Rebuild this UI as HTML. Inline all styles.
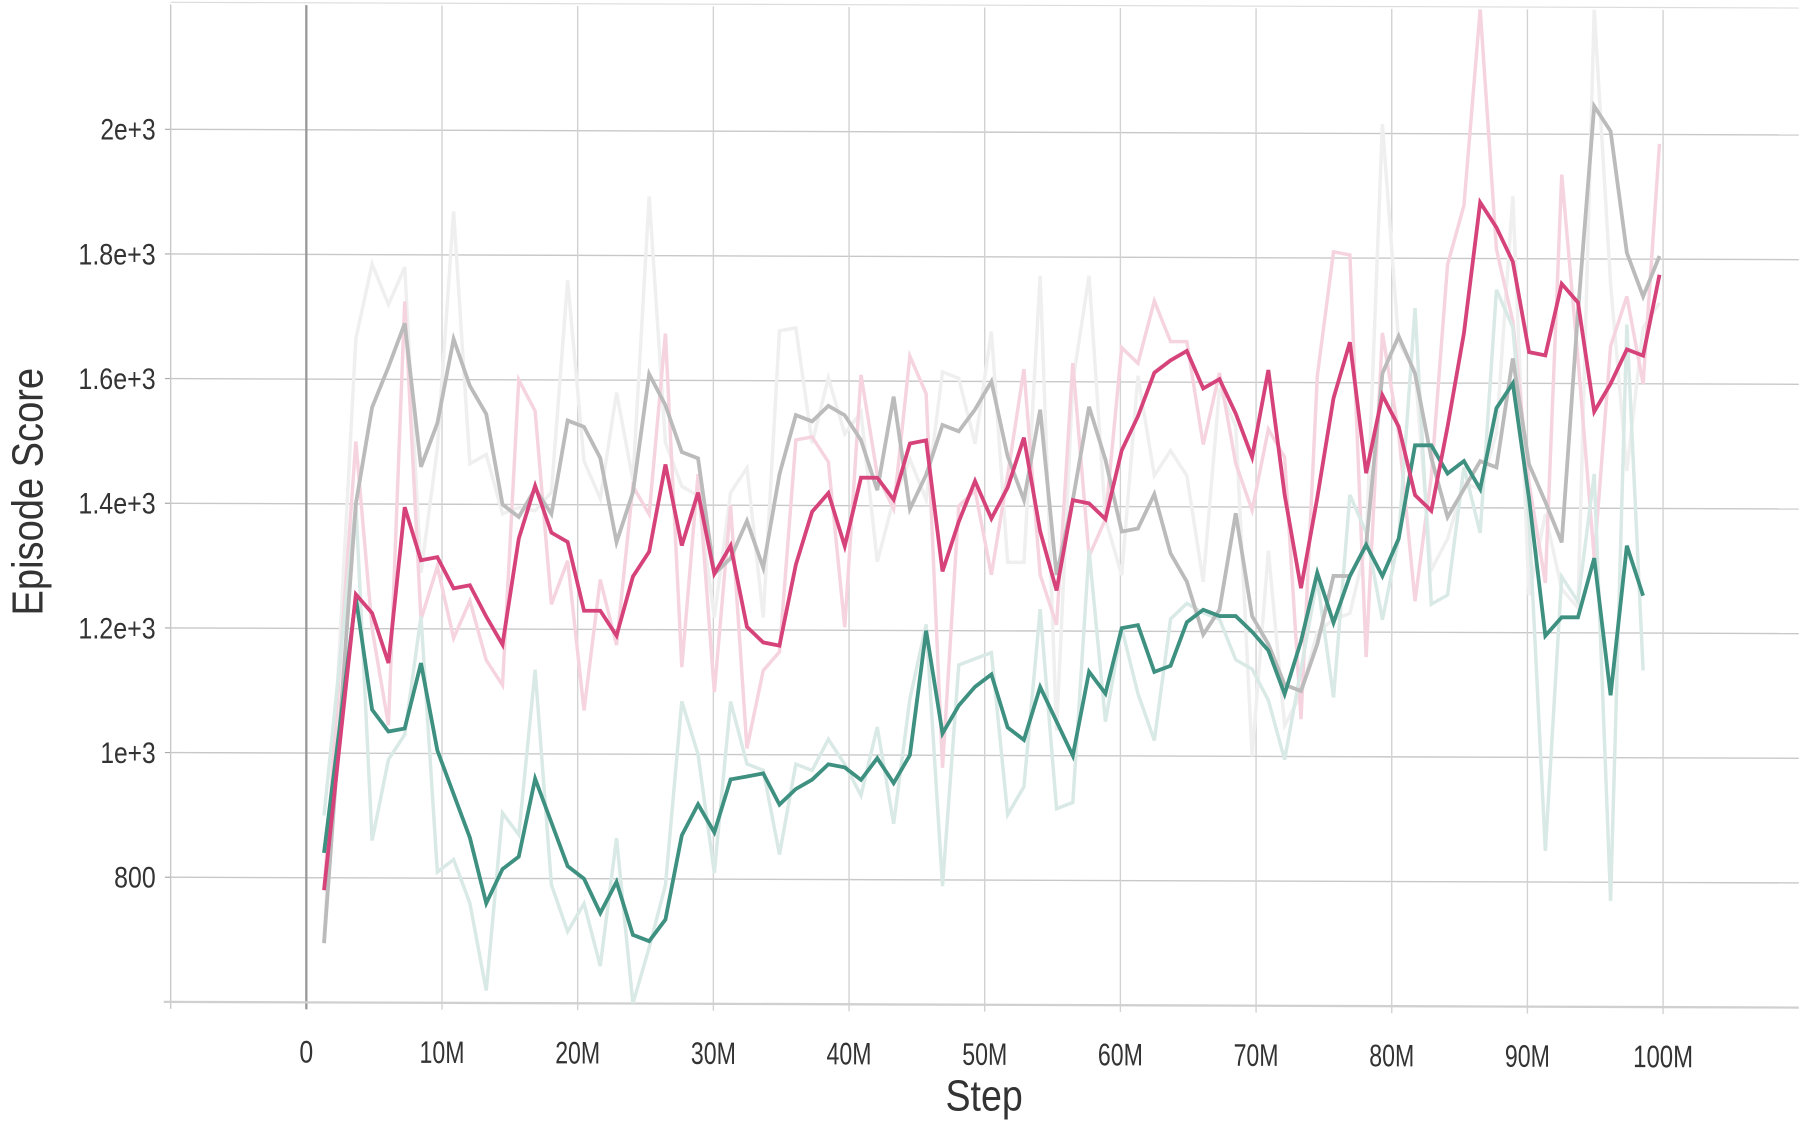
<!DOCTYPE html>
<html><head><meta charset="utf-8"><style>
html,body{margin:0;padding:0;background:#fff;}
svg{display:block;}
text{font-family:"Liberation Sans",sans-serif;fill:#333;}
</style></head><body>
<svg id="chart" width="1808" height="1128" viewBox="0 0 1568 975" preserveAspectRatio="none" xmlns="http://www.w3.org/2000/svg">
<g id="plot" transform="translate(148 0) skewY(0.2) translate(-148 0)"></g>
<text x="0" y="0" font-size="38" textLength="214" lengthAdjust="spacingAndGlyphs" transform="translate(37 532) rotate(-90)">Episode Score</text>
<text x="820" y="960" font-size="38" textLength="67" lengthAdjust="spacingAndGlyphs">Step</text>
</svg>
<script>
const yTicks = [800, 1000, 1200, 1400, 1600, 1800, 2000];
const yTickLabels = ["800", "1e+3", "1.2e+3", "1.4e+3", "1.6e+3", "1.8e+3", "2e+3"];
const xTicks = [0, 10, 20, 30, 40, 50, 60, 70, 80, 90, 100];
const xTickLabels = ["0", "10M", "20M", "30M", "40M", "50M", "60M", "70M", "80M", "90M", "100M"];
const firstStep = 1.3;
const stepStart = 3.65;
const stepSize = 1.201;
const pinkMain = [780,1255,1225,1145,1395,1310,1315,1265,1270,1220,1175,1345,1430,1355,1340,1230,1230,1190,1285,1325,1465,1335,1420,1290,1335,1205,1180,1175,1305,1390,1420,1335,1445,1445,1410,1500,1505,1295,1375,1440,1380,1430,1510,1360,1265,1410,1405,1380,1490,1545,1615,1635,1650,1590,1605,1550,1480,1620,1420,1270,1415,1575,1665,1455,1580,1530,1420,1395,1530,1680,1890,1850,1795,1650,1645,1760,1730,1555,1600,1655,1645,1775];
const grayMain = [695,1400,1555,1620,1690,1460,1530,1665,1590,1545,1400,1380,1425,1385,1535,1525,1475,1340,1420,1610,1560,1485,1475,1290,1315,1375,1300,1450,1545,1535,1560,1545,1505,1425,1575,1395,1450,1530,1520,1555,1600,1480,1410,1555,1290,1410,1560,1475,1360,1365,1420,1325,1280,1195,1235,1390,1225,1180,1115,1105,1180,1290,1290,1340,1615,1675,1615,1480,1385,1430,1475,1465,1640,1470,1410,1345,1715,2045,2005,1810,1740,1805];
const greenMain = [840,1250,1070,1035,1040,1145,1005,935,865,760,815,835,960,890,820,800,745,795,710,700,735,870,920,875,960,965,970,920,945,960,985,980,960,995,955,1000,1200,1035,1080,1110,1130,1045,1025,1110,1055,1000,1135,1100,1205,1210,1135,1145,1215,1235,1225,1225,1200,1170,1100,1185,1295,1215,1290,1340,1290,1350,1500,1500,1455,1475,1430,1560,1600,1415,1195,1225,1225,1320,1100,1340,1260];
const pinkRaw = [780,1500,1200,1045,1725,1215,1300,1185,1245,1150,1110,1600,1550,1240,1310,1070,1280,1175,1430,1385,1675,1140,1450,1100,1400,1010,1135,1165,1505,1510,1470,1205,1610,1450,1395,1640,1580,980,1400,1425,1290,1450,1620,1290,1210,1630,1320,1380,1655,1630,1730,1665,1665,1500,1615,1470,1395,1525,1480,1060,1610,1810,1805,1160,1680,1520,1250,1450,1790,1885,2200,1815,1700,1440,1280,1935,1640,1320,1660,1740,1600,1985];
const grayRaw = [700,1665,1785,1720,1780,1290,1490,1870,1465,1480,1385,1395,1390,1420,1760,1470,1410,1580,1440,1895,1500,1430,1415,1220,1420,1460,1220,1680,1685,1500,1605,1515,1550,1310,1410,1475,1410,1615,1605,1500,1680,1310,1310,1770,1040,1600,1770,1380,1290,1610,1450,1490,1450,1280,1590,1530,1000,1330,1050,1100,1200,1220,1230,1340,2015,1665,1620,1300,1350,1440,1430,1520,1900,1260,1390,1270,1240,2200,1760,1460,1690,1730];
const greenRaw = [900,1400,860,990,1030,1220,810,830,760,620,905,870,1135,790,715,760,660,865,600,690,790,1085,1000,810,1085,985,975,840,985,975,1025,985,935,1045,890,1090,1210,790,1145,1155,1165,905,950,1235,915,925,1330,1055,1205,1100,1025,1220,1245,1230,1220,1155,1140,1090,995,1140,1285,1095,1420,1360,1220,1350,1720,1245,1260,1465,1360,1750,1690,1380,850,1290,1250,1455,770,1695,1140];

const NS = "http://www.w3.org/2000/svg";
const plot = document.getElementById('plot');
const svg = document.getElementById('chart');
const X0 = 148, X1 = 1560, XMIN = -10, XMAX = 110;
const Y0 = 866, Y1 = 4, YMIN = 600, YMAX = 2200;
function xs(v){ return X0 + (v - XMIN) / (XMAX - XMIN) * (X1 - X0); }
function ys(v){ return Y0 - (v - YMIN) / (YMAX - YMIN) * (Y0 - Y1); }
function stepAt(i){ return i === 0 ? firstStep : stepStart + (i - 1) * stepSize; }
function mk(tag, attrs){ const e = document.createElementNS(NS, tag); for (const k in attrs) e.setAttribute(k, attrs[k]); return e; }

const defs = mk('defs', {});
const cp = mk('clipPath', {id: 'clip'});
cp.appendChild(mk('rect', {x: X0, y: Y1, width: X1 - X0, height: Y0 - Y1}));
defs.appendChild(cp);
plot.appendChild(defs);

const topLine = mk('line', {x1: X0, x2: X1, y1: Y1 - 2, y2: Y1 - 2, stroke: '#dcdcdc', 'stroke-width': 1});


plot.appendChild(topLine);

yTicks.forEach((t, i) => {
  const g = mk('line', {x1: X0, x2: X1, y1: ys(t), y2: ys(t), stroke: '#c8c8c8', 'stroke-width': 1.2});
  
  
  plot.appendChild(g);
  const tk = mk('line', {x1: X0 - 5, x2: X0, y1: ys(t), y2: ys(t), stroke: '#aaa', 'stroke-width': 1});
  
  
  plot.appendChild(tk);
  const lbl = yTickLabels[i];
  const w = lbl.length * 12 - (lbl.indexOf('.') >= 0 ? 5 : 0);
  const tx = mk('text', {x: 135, y: ys(t) + 9, 'font-size': 26, 'text-anchor': 'end', textLength: w, lengthAdjust: 'spacingAndGlyphs'});
  tx.textContent = lbl;
  
  
  svg.appendChild(tx);
});

xTicks.forEach((t, i) => {
  const g = mk('line', {x1: xs(t), x2: xs(t), y1: Y1, y2: Y0 + 6, stroke: t === 0 ? '#999' : '#d2d2d2', 'stroke-width': t === 0 ? 2 : 1.2});
  
  
  plot.appendChild(g);
  const lbl = xTickLabels[i];
  const tx = mk('text', {x: xs(t), y: 918, 'font-size': 27, 'text-anchor': 'middle', textLength: lbl.length === 1 ? 12 : lbl.length * 13, lengthAdjust: 'spacingAndGlyphs'});
  tx.textContent = lbl;
  
  
  plot.appendChild(tx);
});
const lg = mk('line', {x1: X0, x2: X0, y1: Y1, y2: Y0 + 6, stroke: '#c8c8c8', 'stroke-width': 1.2});


plot.appendChild(lg);
const ba = mk('line', {x1: X0 - 6, x2: X1, y1: Y0, y2: Y0, stroke: '#d0d0d0', 'stroke-width': 2});


plot.appendChild(ba);

function drawSeries(vals, color, width, name){
  const pts = vals.map((v, i) => xs(stepAt(i)).toFixed(1) + ',' + ys(v).toFixed(1)).join(' ');
  const pl = mk('polyline', {points: pts, fill: 'none', stroke: color, 'stroke-width': width, 'stroke-linejoin': 'miter', 'clip-path': 'url(#clip)'});
  
  
  plot.appendChild(pl);
}
drawSeries(grayRaw, '#efefef', 3, 'gray-raw-line');
drawSeries(pinkRaw, '#f6d4df', 3, 'pink-raw-line');
drawSeries(greenRaw, '#d9e9e5', 3, 'green-raw-line');
drawSeries(grayMain, '#bbbbbb', 3.3, 'gray-smoothed-line');
drawSeries(greenMain, '#3e9080', 3.3, 'green-smoothed-line');
drawSeries(pinkMain, '#d5437a', 3.3, 'pink-smoothed-line');
</script>
</body></html>
